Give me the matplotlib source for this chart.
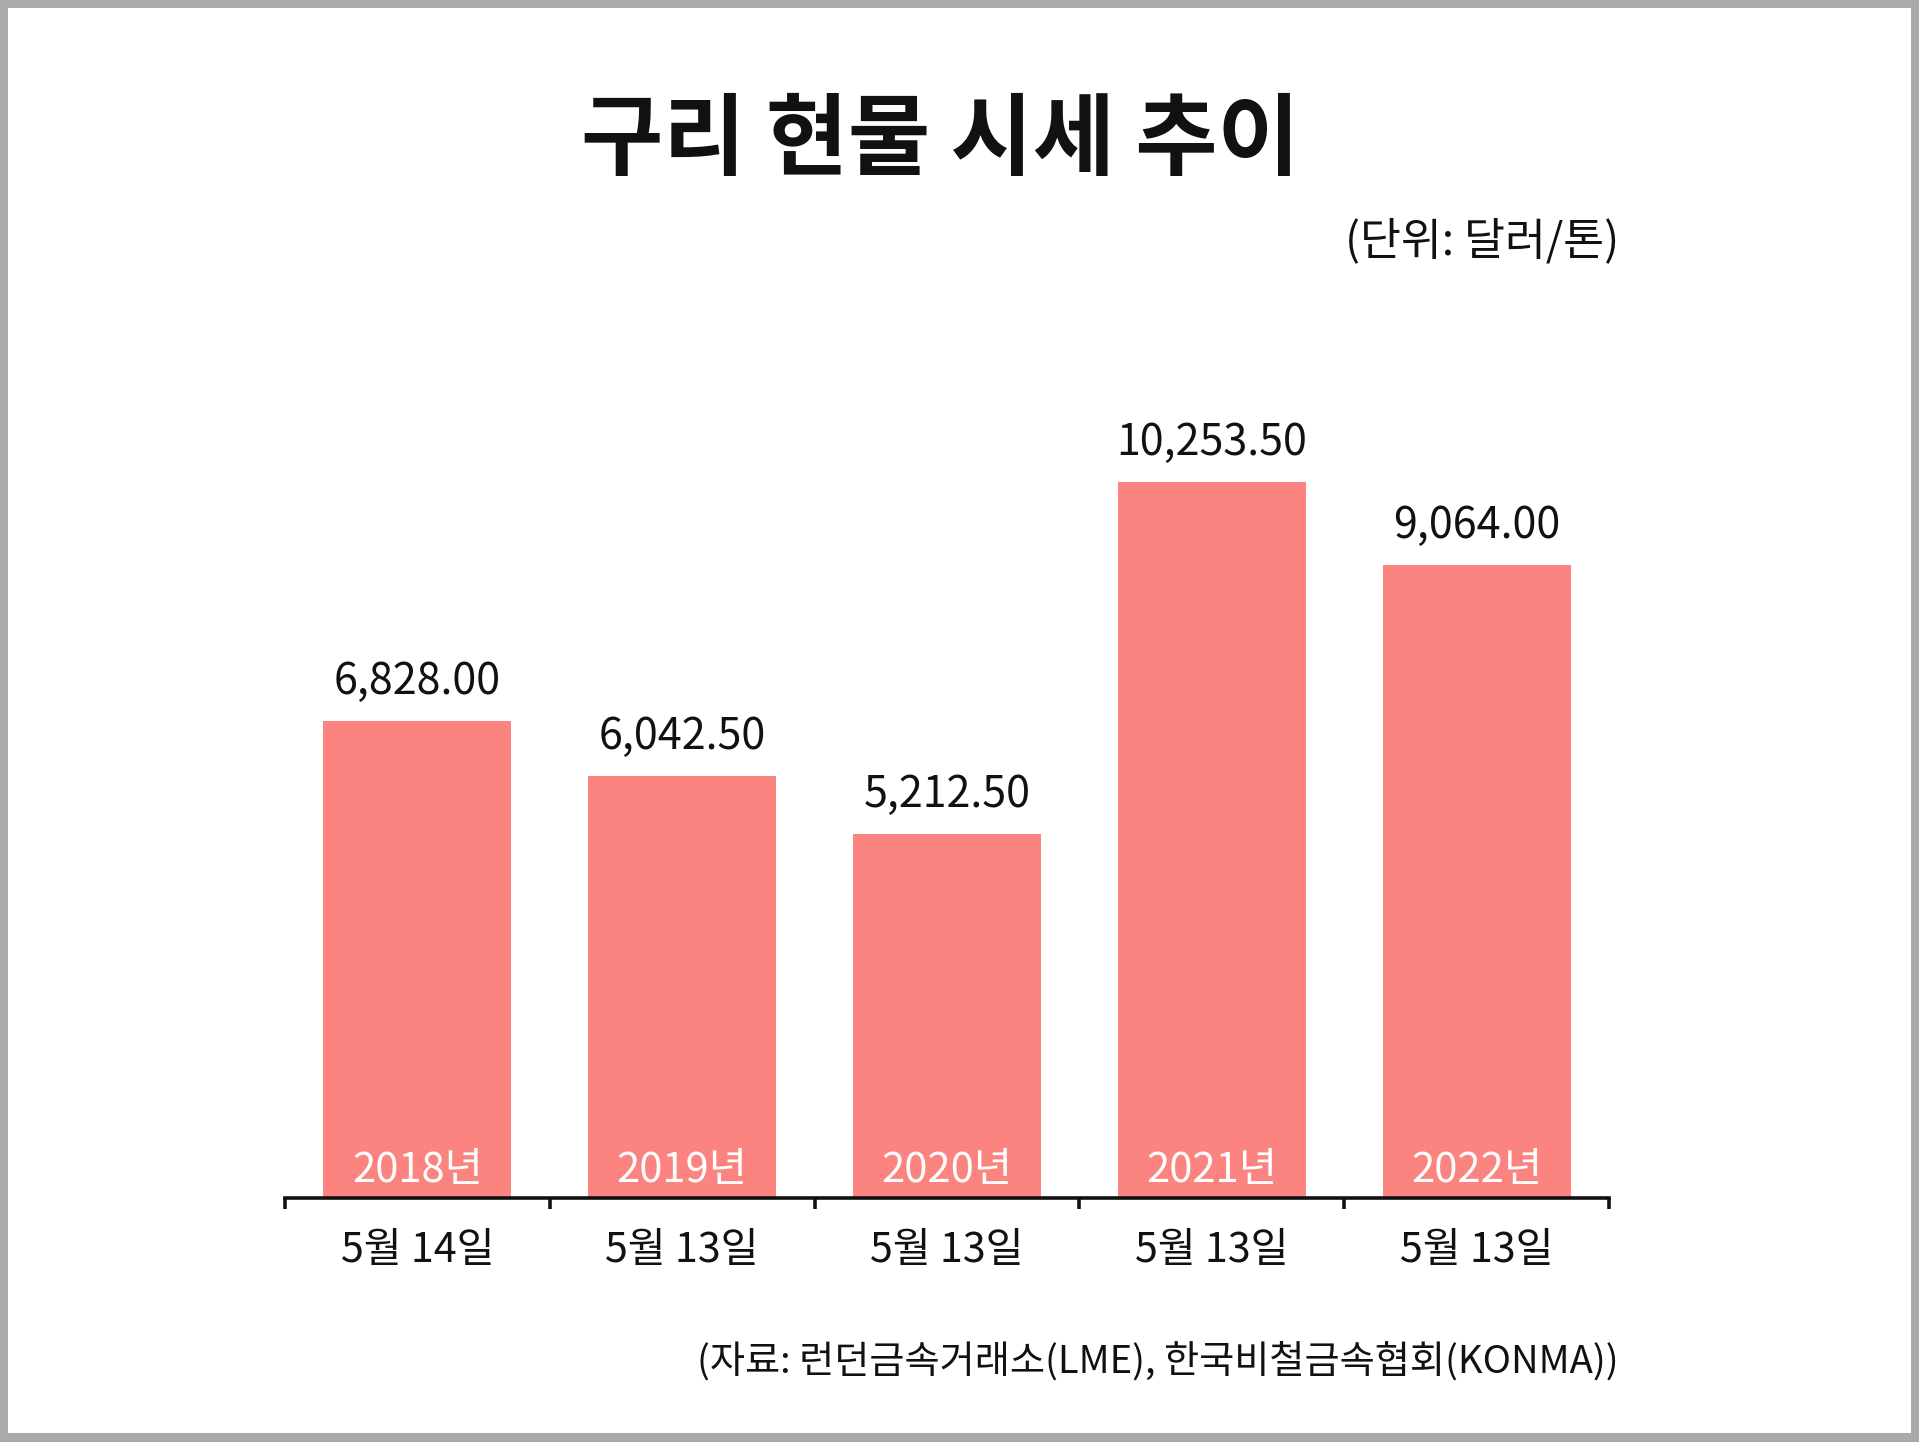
import matplotlib
matplotlib.use("Agg")
import matplotlib.pyplot as plt
from matplotlib.patches import Rectangle

plt.rcParams['font.family'] = ['Noto Sans CJK KR', 'DejaVu Sans']

# 데이터
years = ["2018년", "2019년", "2020년", "2021년", "2022년"]
dates = ["5월 14일", "5월 13일", "5월 13일", "5월 13일", "5월 13일"]
prices = [6828.00, 6042.50, 5212.50, 10253.50, 9064.00]

W, H = 1919, 1442
fig = plt.figure(figsize=(W / 100, H / 100), dpi=100)
fig.patch.set_facecolor("#aaaaaa")
fig.patches.append(Rectangle((8 / W, 9 / H), (1911 - 8) / W, (1434 - 9) / H,
                             transform=fig.transFigure, facecolor="white",
                             edgecolor="none", zorder=-10))

# 축 위치 (픽셀 기준)
x0, x1 = 285, 1609
y_base, y_top = 1198, 300
ax = fig.add_axes([x0 / W, (H - y_base) / H, (x1 - x0) / W, (y_base - y_top) / H])
ax.set_facecolor("none")
ax.set_zorder(5)

xs = list(range(len(prices)))
ax.bar(xs, prices, width=0.71, color="#fc8480", zorder=2)

ax.set_xlim(-0.5, len(prices) - 0.5)
ax.set_ylim(0, (y_base - y_top) / 0.06983)

for s in ["top", "left", "right"]:
    ax.spines[s].set_visible(False)
ax.spines["bottom"].set_linewidth(2.6)
ax.spines["bottom"].set_color("#111111")
ax.spines["bottom"].set_capstyle("projecting")
ax.set_yticks([])

ax.set_xticks(xs)
ax.set_xticklabels(dates, fontsize=29.7, fontweight="medium", color="#111111")
ax.tick_params(axis="x", which="major", length=0, pad=23)
ax.set_xticks([i - 0.5 for i in range(len(prices) + 1)], minor=True)
ax.tick_params(axis="x", which="minor", length=8, width=2.6, color="#111111", direction="out")

# 값 라벨
for x, v in zip(xs, prices):
    ax.annotate(f"{v:,.2f}", (x, v), xytext=(0, 28), textcoords="offset points",
                ha="center", va="center", fontsize=31, color="#111111")

# 막대 안 연도
for x, y in zip(xs, years):
    ax.annotate(y, (x, 0), xytext=(0, 20), textcoords="offset points",
                ha="center", va="center", fontsize=30, color="white", fontweight="light")

fig.text(940 / W, 1 - 142 / H, "구리 현물 시세 추이", ha="center", va="center",
         fontsize=64.4, fontweight="bold", color="#111111")
fig.text(1619 / W, 1 - 241 / H, "(단위: 달러/톤)", ha="right", va="center",
         fontsize=32, fontweight="medium", color="#111111")
fig.text(1619 / W, 1 - 1362 / H, "(자료: 런던금속거래소(LME), 한국비철금속협회(KONMA))",
         ha="right", va="center", fontsize=27.5, color="#111111")

fig.savefig("out.png", dpi=100, facecolor=fig.get_facecolor())
